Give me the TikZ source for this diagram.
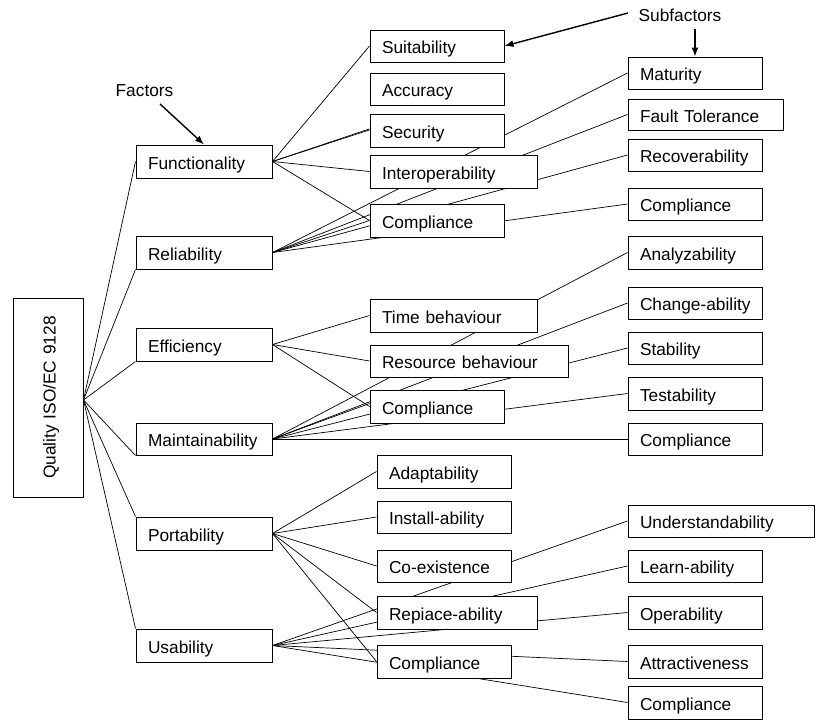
\documentclass[tikz,border=0pt]{standalone}
\usepackage{fontspec}
\setmainfont{Liberation Sans}
\usetikzlibrary{backgrounds,arrows.meta}
\newcommand\mybox[6]{%
 \pgfmathsetmacro\mbw{#4-#2}%
 \pgfmathsetmacro\mbh{#5-#3}%
 \pgfmathsetmacro\mtw{#4-#2-24}%
 \node[box,minimum width=\mbw pt,minimum height=\mbh pt,text width=\mtw pt] (#1) at ({(#2+#4)/2},{(#3+#5)/2}) {\makebox[\linewidth][l]{#6}};}
\begin{document}
\begin{tikzpicture}[x=1pt,y=-1pt,
 box/.style={draw,line width=1pt,fill=white,inner xsep=12pt,inner ysep=2pt,align=left,
   text height=15pt,text depth=0pt,font=\fontsize{17.3}{20}\selectfont},
 lbl/.style={inner sep=0pt,text height=14.5pt,text depth=0pt,font=\fontsize{17.3}{20}\selectfont},
 con/.style={line width=0.7pt},
 arr/.style={line width=1.4pt,-{Latex[length=9pt,width=7pt]}}]
\begin{pgfonlayer}{background}
\fill[white] (0,0) rectangle (832,726);
\end{pgfonlayer}
\useasboundingbox (0,0) rectangle (832,726);

% root
\node[box,rotate=90,minimum width=199pt,minimum height=70pt,text width=175pt,align=center,inner xsep=12pt] (qual) at (48,397.5) {Quality ISO/EC 9128};

% factors
\mybox{fun}{136}{145}{272}{178}{Functionality}
\mybox{rel}{136}{236}{272}{269}{Reliability}
\mybox{eff}{136}{328}{272}{361}{Efficiency}
\mybox{mai}{136}{423}{272}{455}{Maintainability}
\mybox{por}{136}{517}{272}{550}{Portability}
\mybox{usa}{136}{629}{272}{662}{Usability}
% middle column
\mybox{suit}{370}{30}{504}{62}{Suitability}
\mybox{acc}{370}{73}{504}{105}{Accuracy}
\mybox{sec}{370}{114}{504}{147}{Security}
\mybox{intop}{370}{155}{537}{188}{Interoperability}
\mybox{comp1}{370}{204}{504}{237}{Compliance}
\mybox{time}{370}{299}{537}{332}{Time behaviour}
\mybox{res}{370}{345}{568}{377}{Resource behaviour}
\mybox{comp2}{370}{390}{504}{423}{Compliance}
\mybox{adapt}{377}{455}{511}{488}{Adaptability}
\mybox{inst}{377}{501}{511}{533}{Install-ability}
\mybox{coex}{377}{550}{511}{582}{Co-existence}
\mybox{repl}{377}{596}{537}{629}{Repiace-ability}
\mybox{comp3}{377}{645}{511}{678}{Compliance}
% right column
\mybox{mat}{628}{57}{762}{89}{Maturity}
\mybox{ft}{628}{99}{783}{130}{Fault Tolerance}
\mybox{rec}{628}{139}{762}{171}{Recoverability}
\mybox{compr1}{628}{188}{762}{220}{Compliance}
\mybox{ana}{628}{236}{762}{269}{Analyzability}
\mybox{chg}{628}{287}{762}{319}{Change-ability}
\mybox{stab}{628}{332}{762}{364}{Stability}
\mybox{test}{628}{377}{762}{410}{Testability}
\mybox{compr2}{628}{423}{762}{455}{Compliance}
\mybox{und}{628}{505}{814}{537}{Understandability}
\mybox{learn}{628}{550}{762}{582}{Learn-ability}
\mybox{oper}{628}{596}{762}{629}{Operability}
\mybox{attr}{628}{645}{762}{678}{Attractiveness}
\mybox{compr3}{628}{686}{762}{719}{Compliance}

% labels
\node[lbl] (factors) at (144.5,89.5) {Factors};
\node[lbl] (subf) at (680,14.4) {Subfactors};
\coordinate (fstart) at (160,104);
\coordinate (sstart) at (628,13);
\coordinate (mstart) at (695,29);
\draw[arr] (fstart) -- (fun.north);
\draw[arr] (sstart) -- (suit.east);
\draw[arr] (mstart) -- (mat.north);

\begin{pgfonlayer}{background}
\coordinate (qs) at ([yshift=-2.5pt]qual.south);
\draw[con] (qs) -- (fun.west);
\draw[con] (qs) -- (rel.south west);
\draw[con] (qs) -- (eff.south west);
\draw[con] (qs) -- (mai.south west);
\draw[con] (qs) -- (por.north west);
\draw[con] (qs) -- (usa.north west);
% functionality
\draw[con] (fun.east) -- (suit.west);
\draw[con] (fun.east) -- ([yshift=0.6pt]sec.west);
\draw[con] (fun.east) -- ([yshift=1.6pt]sec.west);
\draw[con] (fun.east) -- (intop.west);
\draw[con] (fun.east) -- (comp1.west);
% reliability
\draw[con] (rel.east) -- (mat.west);
\draw[con] (rel.east) -- (ft.west);
\draw[con] (rel.east) -- (rec.west);
\draw[con] (rel.east) -- (comp1.west);
\draw[con] (rel.east) -- (compr1.west);
% efficiency
\draw[con] (eff.east) -- (time.west);
\draw[con] (eff.east) -- (res.west);
\draw[con] (eff.east) -- (comp2.west);
% maintainability
\draw[con] (mai.east) -- (ana.west);
\draw[con] (mai.east) -- (chg.west);
\draw[con] (mai.east) -- (stab.west);
\draw[con] (mai.east) -- (test.west);
\draw[con] (mai.east) -- ([yshift=3pt]comp2.west);
\draw[con] (mai.east) -- (compr2.west);
% portability
\draw[con] (por.east) -- (adapt.west);
\draw[con] (por.east) -- (inst.west);
\draw[con] (por.east) -- (coex.west);
\draw[con] (por.east) -- (repl.west);
\draw[con] (por.east) -- (comp3.west);
% usability
\draw[con] (usa.east) -- (und.west);
\draw[con] (usa.east) -- (learn.west);
\draw[con] (usa.east) -- (oper.west);
\draw[con] (usa.east) -- (attr.west);
\draw[con] (usa.east) -- (compr3.west);
\end{pgfonlayer}
\end{tikzpicture}
\end{document}
